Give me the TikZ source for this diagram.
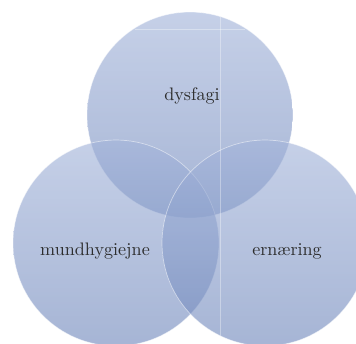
\documentclass[tikz,border=0pt]{standalone}
\usepackage{tikz}
\definecolor{venntop}{RGB}{163,180,218}
\definecolor{vennbot}{RGB}{112,136,188}
\definecolor{venntext}{RGB}{45,45,45}
\tikzset{
  venn/.style={circle,minimum size=4.12cm,inner sep=0pt,top color=venntop,bottom color=vennbot,
    fill opacity=0.62,draw=white,draw opacity=0.5,line width=0.4pt},
  vennlabel/.style={text=venntext,font=\fontsize{10.3}{12}\selectfont}
}
\begin{document}
\begin{tikzpicture}[x=0.02cm,y=-0.02cm]
	\useasboundingbox (0,0) rectangle (356,343);
	\clip (0,0) rectangle (356,343);
	\fill[white] (0,0) rectangle (356,343);
	% de tre cirkler
	\node[venn] (dys) at (190,115) {};
	\node[venn] (mund) at (116,243) {};
	\node[venn] (ern) at (265,243) {};
	% svage linjer
	\draw[white,opacity=0.35,line width=0.3pt] (220,16.5) -- (220,343);
	\draw[white,opacity=0.35,line width=0.3pt] (135,29) -- (245,29);
	% tekster
	\node[vennlabel] (tdys) at (192,96) {dysfagi};
	\node[vennlabel] (tmund) at (95,251) {mundhygiejne};
	\node[vennlabel] (tern) at (287,251) {ernæring};
\end{tikzpicture}
\end{document}
